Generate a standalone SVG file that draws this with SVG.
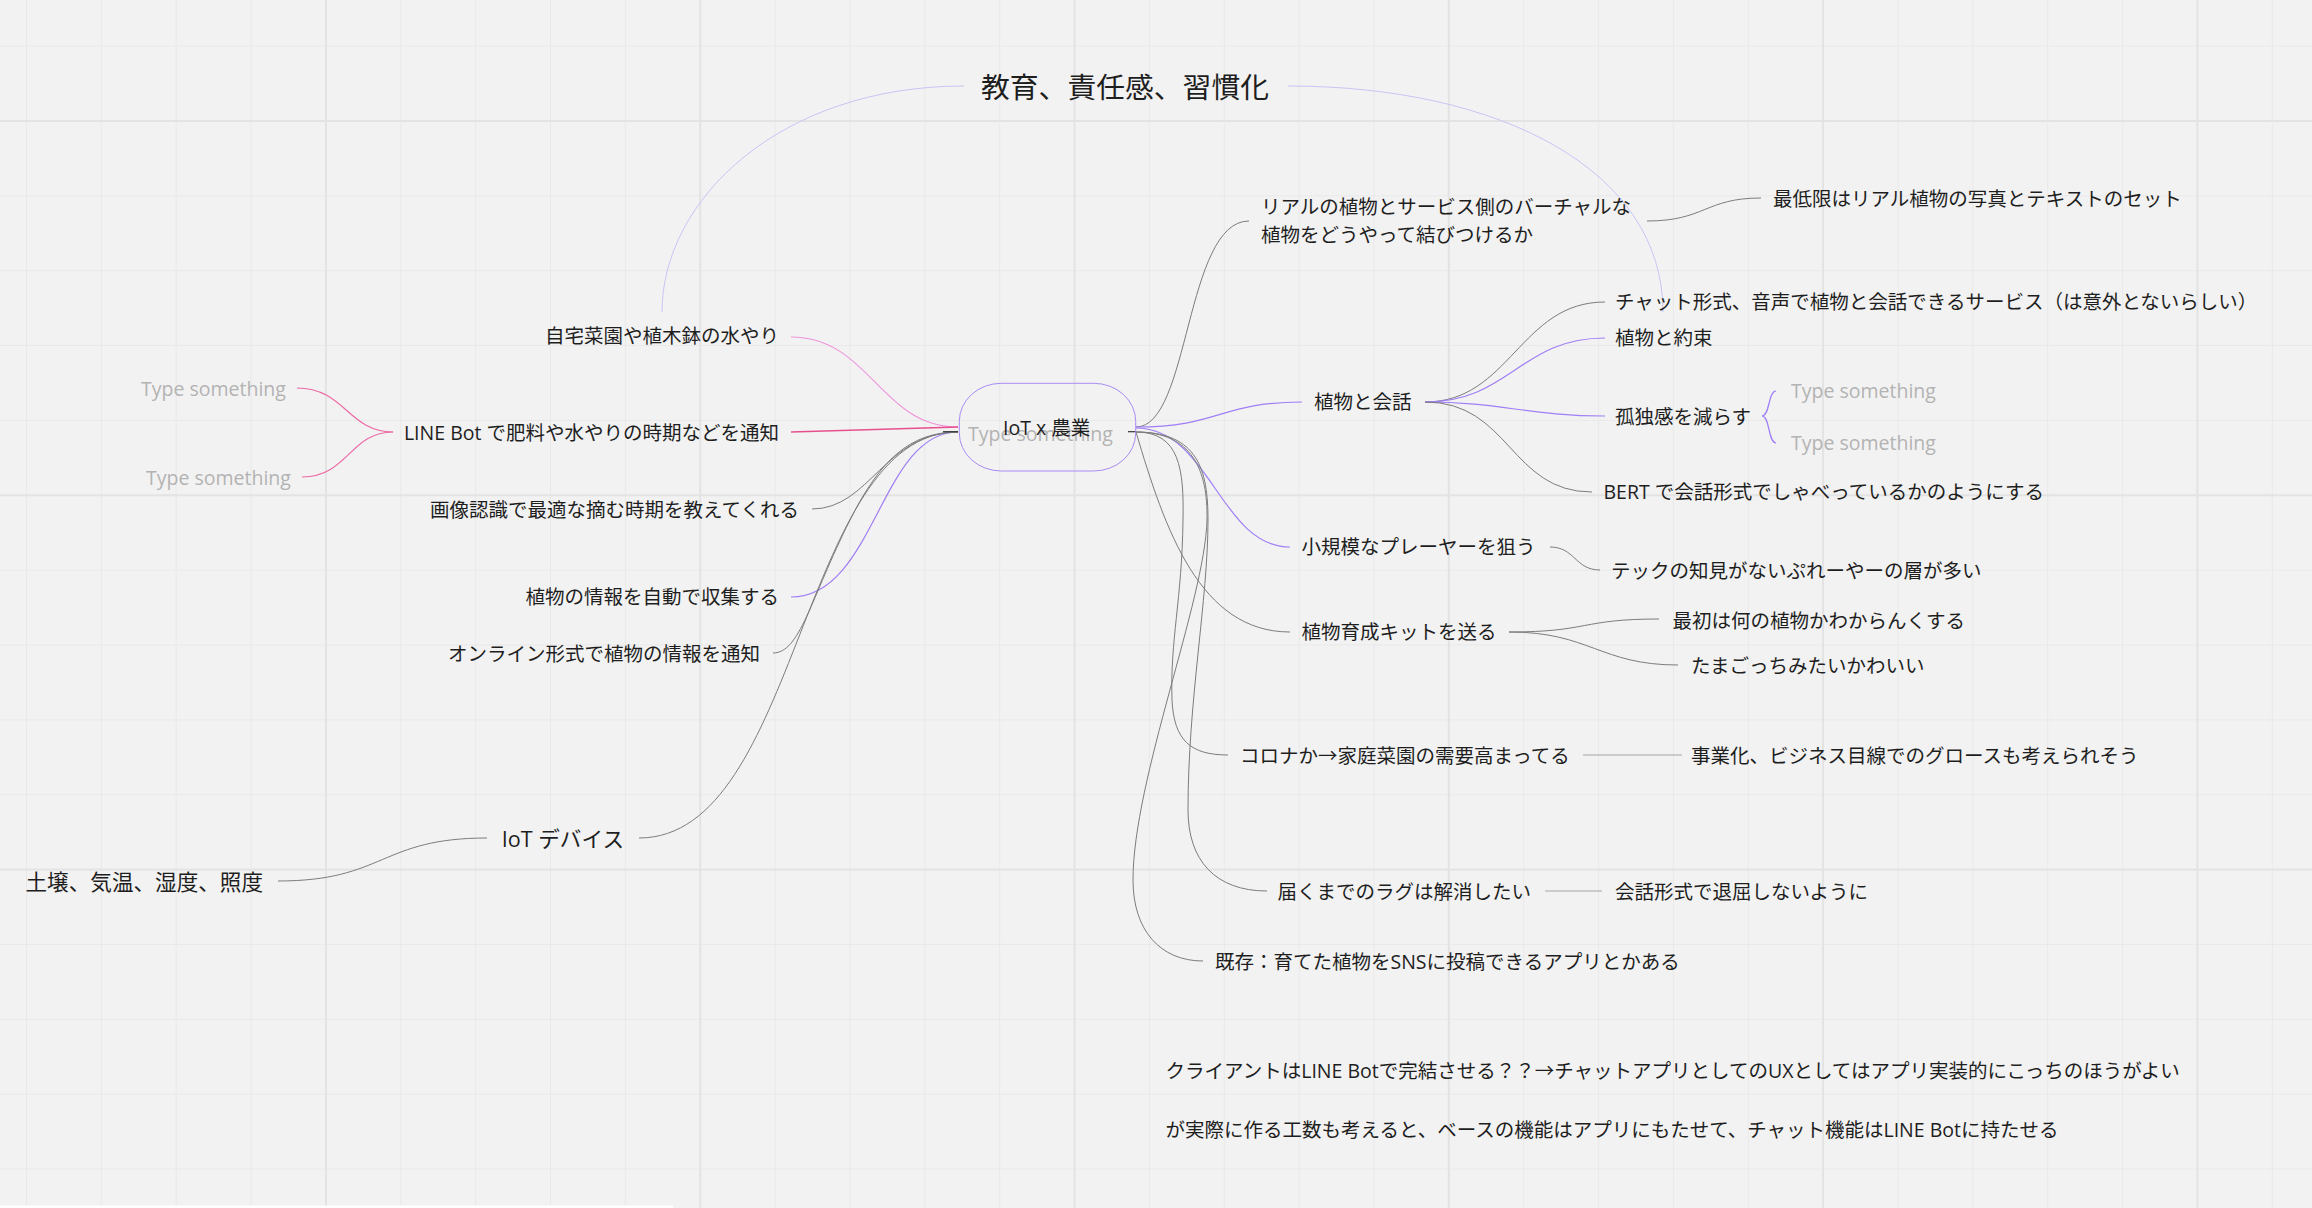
<svg xmlns="http://www.w3.org/2000/svg" width="2312" height="1208" viewBox="0 0 2312 1208">
<style>
  text { font-family: "Open Sans", "Noto Sans CJK JP", sans-serif; font-size: 19.5px; fill: #1e1e1e; dominant-baseline: central; }
  .end { text-anchor: end; }
  .ph { fill: #b3b3b3; }
  .big { font-size: 21.6px; }
  .title { font-size: 28.8px; }
  .c { fill: none; stroke: #7c7c7c; stroke-width: 1; }
  .cl { fill: none; stroke: #a6a6a6; stroke-width: 1; }
  .p { fill: none; stroke: #a07ef5; stroke-width: 1.2; }
  .lav { fill: none; stroke: #cbc3f5; stroke-width: 1; }
  .pk { fill: none; stroke: #ec6aa6; stroke-width: 1.2; }
  .pk2 { fill: none; stroke: #e84f8e; stroke-width: 1.6; }
  .lpk { fill: none; stroke: #ef92dc; stroke-width: 1.1; }
  .stub { fill: none; stroke: #333; stroke-width: 1.2; }
</style>
<defs>
  <pattern id="minor" x="26" y="45.6" width="74.86" height="74.86" patternUnits="userSpaceOnUse">
    <path d="M0.5 0 V74.86 M0 0.5 H74.86" stroke="#e9e9e9" stroke-width="1" fill="none"/>
  </pattern>
  <pattern id="major" x="324.9" y="120" width="374.3" height="374.3" patternUnits="userSpaceOnUse">
    <path d="M1 0 V374.3 M0 1 H374.3" stroke="#e3e3e3" stroke-width="2" fill="none"/>
  </pattern>
</defs>

<rect x="0" y="0" width="2312" height="1208" fill="#f2f2f2"/>
<rect x="0" y="0" width="2312" height="1208" fill="url(#minor)"/>
<rect x="0" y="0" width="2312" height="1208" fill="url(#major)"/>
<rect x="0" y="1205.5" width="673" height="2.5" fill="#ffffff"/>

<g id="connectors">
  <!-- top arc -->
  <path class="lav" d="M964 86 C780 86, 662 200, 662 312"/>
  <path class="lav" d="M1288 86 C1500 86, 1663 170, 1663 312"/>
  <!-- left side -->
  <path class="lpk" d="M791 337 C870 337, 880 427, 958 427"/>
  <path class="pk2" d="M791 432 L958 427"/>
  <path class="pk" d="M393 432 C348 432, 345 388, 297 388"/>
  <path class="pk" d="M393 432 C350 432, 348 477, 302 477"/>
  <path class="c" d="M812 509 C870 509, 885 432, 958 432"/>
  <path class="p" d="M791 597 C875 597, 880 432, 958 432"/>
  <path class="c" d="M773 653 C800 653, 810 600, 850 520 C880 460, 910 432, 958 432"/>
  <path class="c" d="M639 838 C800 838, 800 432, 958 432"/>
  <path class="c" d="M487 838 C380 838, 385 881, 278 881"/>
  <path class="stub" d="M943 431.7 H958"/>
  <!-- right side -->
  <path class="stub" d="M1128 431.7 H1136"/>
  <path class="c" d="M1136 427 C1190 427, 1185 221, 1249 221"/>
  <path class="c" d="M1647 221 C1705 221, 1705 198, 1761 198"/>
  <path class="p" d="M1136 427 C1220 427, 1220 402, 1302 402"/>
  <path class="c" d="M1425 402 C1510 402, 1520 302, 1605 302"/>
  <path class="p" d="M1425 402 C1510 402, 1520 338, 1605 338"/>
  <path class="p" d="M1425 402 C1500 402, 1530 416, 1605 416"/>
  <path class="c" d="M1425 402 C1510 402, 1510 492, 1592 492"/>
  <path class="p" d="M1762 416 C1770 416, 1768 391, 1776 391"/>
  <path class="p" d="M1762 416 C1770 416, 1768 443, 1776 443"/>
  <path class="p" d="M1136 428 C1210 428, 1220 547, 1290 547"/>
  <path class="c" d="M1550 547 C1575 547, 1575 570, 1600 570"/>
  <path class="c" d="M1136 432 C1165 530, 1200 632, 1290 632"/>
  <path class="c" d="M1509 632 C1590 632, 1580 619, 1659 619"/>
  <path class="c" d="M1509 632 C1590 632, 1600 665, 1678 665"/>
  <path class="c" d="M1136 432 C1180 432, 1184 470, 1183 520 C1182 600, 1170 640, 1172 700 C1174 740, 1190 755, 1228 755"/>
  <path class="cl" d="M1583 755 H1682"/>
  <path class="c" d="M1136 432 C1198 432, 1208 470, 1208 520 C1208 600, 1188 700, 1188 810 C1188 860, 1215 891, 1267 891"/>
  <path class="cl" d="M1545 891 H1602"/>
  <path class="c" d="M1136 432 C1192 432, 1208 470, 1207 520 C1205 600, 1133 780, 1133 880 C1133 930, 1160 961, 1203 961"/>
</g>

<g id="title"><text class="title" x="981" y="86.5">教育、責任感、習慣化</text></g>

<g id="center">
  <rect x="959.3" y="383.3" width="176.4" height="87.7" rx="42" ry="38" fill="none" stroke="#a88cf3" stroke-width="1"/>
  <text class="ph" x="968" y="433.5">Type something</text>
  <text x="1003" y="427.5">IoT x 農業</text>
</g>

<g id="n-jitaku"><text class="end" x="779" y="335">自宅菜園や植木鉢の水やり</text></g>
<g id="n-linebot"><text class="end" x="779" y="432.3">LINE Bot で肥料や水やりの時期などを通知</text></g>
<g id="n-ts-l1"><text class="ph" x="141" y="388.5">Type something</text></g>
<g id="n-ts-l2"><text class="ph" x="146" y="477">Type something</text></g>
<g id="n-gazou"><text class="end" x="799" y="509.3">画像認識で最適な摘む時期を教えてくれる</text></g>
<g id="n-jouhou"><text class="end" x="779" y="596.7">植物の情報を自動で収集する</text></g>
<g id="n-online"><text class="end" x="760" y="653.3">オンライン形式で植物の情報を通知</text></g>
<g id="n-iot"><text class="end big" x="624" y="838.3">IoT デバイス</text></g>
<g id="n-dojou"><text class="big" x="25.5" y="881">土壌、気温、湿度、照度</text></g>

<g id="n-real">
  <text x="1261" y="206.7">リアルの植物とサービス側のバーチャルな</text>
  <text x="1261" y="234">植物をどうやって結びつけるか</text>
</g>
<g id="n-saitei"><text x="1773" y="198.3">最低限はリアル植物の写真とテキストのセット</text></g>
<g id="n-kaiwa"><text x="1314" y="401.7">植物と会話</text></g>
<g id="n-chat"><text x="1615" y="301.7">チャット形式、音声で植物と会話できるサービス（は意外とないらしい）</text></g>
<g id="n-yakusoku"><text x="1615" y="337.7">植物と約束</text></g>
<g id="n-kodoku"><text x="1615" y="416">孤独感を減らす</text></g>
<g id="n-ts-r1"><text class="ph" x="1791" y="390.5">Type something</text></g>
<g id="n-ts-r2"><text class="ph" x="1791" y="442">Type something</text></g>
<g id="n-bert"><text x="1603.5" y="491.7">BERT で会話形式でしゃべっているかのようにする</text></g>
<g id="n-shoukibo"><text x="1301.5" y="546.7">小規模なプレーヤーを狙う</text></g>
<g id="n-tech"><text x="1611" y="570">テックの知見がないぷれーやーの層が多い</text></g>
<g id="n-kit"><text x="1301.5" y="631.7">植物育成キットを送る</text></g>
<g id="n-saisho"><text x="1672.5" y="620">最初は何の植物かわからんくする</text></g>
<g id="n-tamagotchi"><text x="1691" y="665">たまごっちみたいかわいい</text></g>
<g id="n-corona"><text x="1240" y="755">コロナか→家庭菜園の需要高まってる</text></g>
<g id="n-jigyou"><text x="1691" y="755">事業化、ビジネス目線でのグロースも考えられそう</text></g>
<g id="n-todoku"><text x="1277.5" y="891">届くまでのラグは解消したい</text></g>
<g id="n-taikutsu"><text x="1615" y="891">会話形式で退屈しないように</text></g>
<g id="n-kizon"><text x="1215" y="961">既存：育てた植物をSNSに投稿できるアプリとかある</text></g>

<g id="note">
  <text x="1165.5" y="1070">クライアントはLINE Botで完結させる？？→チャットアプリとしてのUXとしてはアプリ実装的にこっちのほうがよい</text>
  <text x="1165.5" y="1129.3">が実際に作る工数も考えると、ベースの機能はアプリにもたせて、チャット機能はLINE Botに持たせる</text>
</g>
</svg>
